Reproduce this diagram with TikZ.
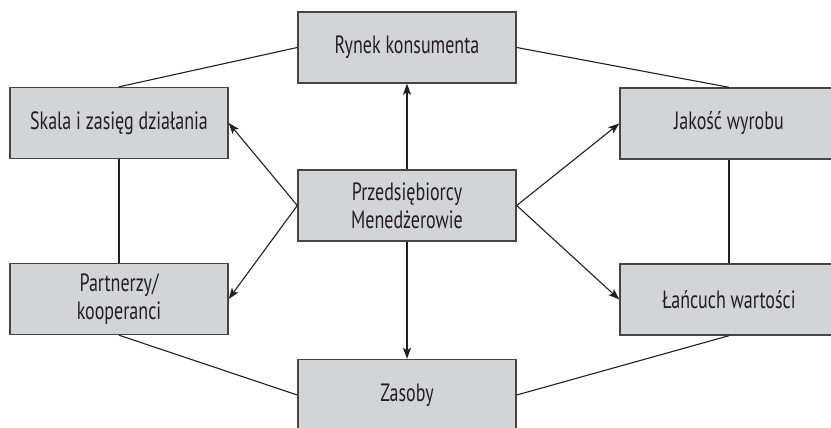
\documentclass[tikz,border=0pt]{standalone}
\usepackage{fontspec}
\setmainfont{PT Sans}[FakeStretch=0.72]
\usetikzlibrary{arrows.meta}
\definecolor{boxfill}{HTML}{D3D4D6}
\definecolor{boxline}{HTML}{454545}
\definecolor{inkgray}{HTML}{231F20}
\tikzset{
  box/.style={draw=boxline, fill=boxfill, line width=1.4pt, rectangle,
    minimum width=218pt, minimum height=71pt, inner sep=0pt,
    text=inkgray, align=center,
    font=\fontsize{25pt}{28pt}\selectfont},
  link/.style={draw=inkgray, line width=1.1pt},
  arrow/.style={link, -{Stealth[length=11pt, width=8pt, inset=2.5pt]}}
}
\begin{document}
\begin{tikzpicture}[x=1pt, y=-1pt]
  \useasboundingbox (0,0) rectangle (831,428);
  \clip (0,0) rectangle (831,428);
  \fill[white] (0,0) rectangle (831,428);

  % boxes
  \node[box] (rynek)  at (407,47.5)  {Rynek konsumenta};
  \node[box] (przed)  at (407,205.5) {Przedsiębiorcy\\Menedżerowie};
  \node[box] (skala)  at (119,123)   {Skala i zasięg działania};
  \node[box] (partn)  at (119,299)   {Partnerzy/\\kooperanci};
  \node[box] (zasoby) at (407,395)   {Zasoby};
  \node[box] (jakosc) at (729,123.5) {Jakość wyrobu};
  \node[box] (lanc)   at (729,299.5) {Łańcuch wartości};

  % outer ring of plain links
  \draw[link] (rynek.west) -- (skala.north);
  \draw[link] (rynek.east) -- (jakosc.north);
  \draw[link] (skala.south) -- (partn.north);
  \draw[link] (jakosc.south) -- (lanc.north);
  \draw[link] (partn.south) -- (zasoby.west);
  \draw[link] (zasoby.east) -- (lanc.south);

  % arrows from the centre
  \draw[arrow] (przed.north) -- (rynek.south);
  \draw[arrow] (przed.south) -- (zasoby.north);
  \draw[arrow] (przed.west) -- (skala.east);
  \draw[arrow] (przed.west) -- (partn.east);
  \draw[arrow] (przed.east) -- (jakosc.west);
  \draw[arrow] (przed.east) -- (lanc.west);
\end{tikzpicture}
\end{document}
